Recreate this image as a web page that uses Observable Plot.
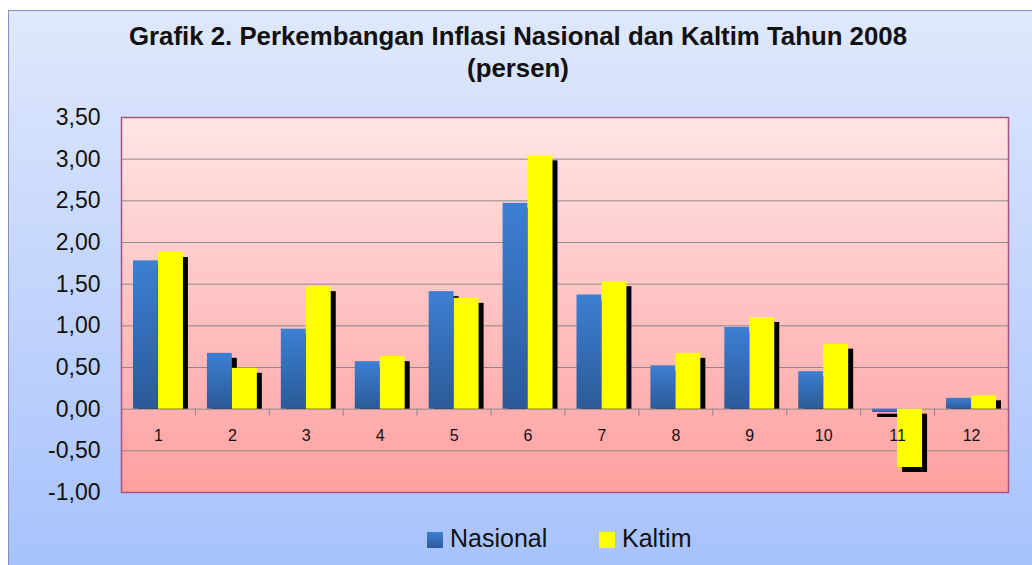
<!DOCTYPE html>
<html>
<head>
<meta charset="utf-8">
<script src="https://cdn.jsdelivr.net/npm/d3@7"></script>
<script src="https://cdn.jsdelivr.net/npm/@observablehq/plot@0.6"></script>
<style>
  html, body { margin: 0; padding: 0; background: #ffffff; }
  #page { position: relative; width: 1032px; height: 565px; overflow: hidden; font-family: "Liberation Sans", Arial, sans-serif; }
  #frame { position: absolute; left: 8px; top: 10px; width: 1040px; height: 570px; box-sizing: border-box;
           border-left: 1.5px solid #8a8cbc; border-top: 1.5px solid #8a8cbc;
           background: linear-gradient(to bottom, #dfe8fc 0%, #a6c1fc 100%); }
  .title { position: absolute; left: 0; width: 1036px; text-align: center; font-weight: bold; font-size: 25.8px; line-height: 25px; color: #111; white-space: nowrap; }
  #chart { position: absolute; left: 0; top: 100px; }
  .sw { position: absolute; width: 16px; height: 16px; top: 532px; }
  .lg { position: absolute; top: 526px; font-size: 25px; line-height: 25px; color: #111; white-space: nowrap; }
</style>
</head>
<body>
<div id="page">
  <div id="frame"></div>
  <div class="title" style="top:24px">Grafik 2. Perkembangan Inflasi Nasional dan Kaltim Tahun 2008</div>
  <div class="title" style="top:56px">(persen)</div>
  <div id="chart"></div>
  <div class="sw" style="left:427px;background:linear-gradient(to bottom,#3d7fd3,#2c5b9a)"></div>
  <div class="lg" style="left:450px">Nasional</div>
  <div class="sw" style="left:599px;background:#ffff00"></div>
  <div class="lg" style="left:622px">Kaltim</div>
</div>
<script>
const months = [1, 2, 3, 4, 5, 6, 7, 8, 9, 10, 11, 12];
const nasional = [1.78, 0.67, 0.96, 0.57, 1.41, 2.47, 1.37, 0.52, 0.98, 0.45, -0.04, 0.13];
const kaltim = [1.88, 0.49, 1.47, 0.63, 1.33, 3.04, 1.53, 0.67, 1.10, 0.78, -0.70, 0.16];
const yTicks = [-1, -0.5, 0, 0.5, 1, 1.5, 2, 2.5, 3, 3.5];
const seriesNames = ["Nasional", "Kaltim"];

const fmt = d => d.toFixed(2).replace(".", ",");

// drop shadows: positive bars' shadow ends at the baseline, negative ones are fully offset
function shadows(values, insetLeft, insetRight) {
  return [
    Plot.barY(months, { filter: (d, i) => values[i] >= 0, x: d => d, y: d => values[d - 1], fill: "#000",
      insetLeft, insetRight, dx: 5, dy: 5, insetBottom: 5 }),
    Plot.barY(months, { filter: (d, i) => values[i] < 0, x: d => d, y: d => values[d - 1], fill: "#000",
      insetLeft, insetRight, dx: 5, dy: 5 })
  ];
}

const svg = Plot.plot({
  width: 1032,
  height: 420,
  marginTop: 17,
  marginBottom: 28,
  marginLeft: 121,
  marginRight: 24,
  style: { background: "transparent", fontFamily: "'Liberation Sans', Arial, sans-serif", color: "#111", overflow: "visible" },
  x: { type: "band", domain: months, padding: 0, round: false, axis: null },
  y: { domain: [-1, 3.5], axis: null },
  marks: [
    Plot.frame({ fill: "url(#pinkGrad)" }),
    Plot.gridY(yTicks, { stroke: "#8a8a8a", strokeOpacity: 1 }),
    Plot.axisY(yTicks, { tickSize: 0, tickPadding: 21, fontSize: 23, tickFormat: fmt, fill: "#111" }),
    Plot.ruleX(months, { x: d => d, y1: d => 0, y2: d => 0, dx: -37, insetBottom: -7, stroke: "#8a8a8a" }),
    Plot.ruleX(months.slice(-1), { x: d => d, y1: d => 0, y2: d => 0, dx: 37, insetBottom: -7, stroke: "#8a8a8a" }),
    ...shadows(nasional, 12, 37),
    Plot.barY(months, { x: d => d, y: (d, i) => nasional[i], fill: "url(#blueGrad)", insetLeft: 12, insetRight: 37, title: () => seriesNames[0] }),
    ...shadows(kaltim, 37, 12),
    Plot.barY(months, { x: d => d, y: (d, i) => kaltim[i], fill: "#ffff00", insetLeft: 37, insetRight: 12, title: () => seriesNames[1] }),
    Plot.text(months, { x: d => d, y: d => 0, dy: 27, text: d => String(d), fontSize: 16, fill: "#111" }),
    Plot.frame({ stroke: "#a8527f", strokeWidth: 1.5 })
  ]
});

const defs = d3.select(svg).insert("defs", ":first-child");
const pg = defs.append("linearGradient").attr("id", "pinkGrad").attr("x1", 0).attr("y1", 0).attr("x2", 0).attr("y2", 1);
pg.append("stop").attr("offset", "0%").attr("stop-color", "#ffe5e5");
pg.append("stop").attr("offset", "100%").attr("stop-color", "#ffa0a0");
const bg = defs.append("linearGradient").attr("id", "blueGrad").attr("x1", 0).attr("y1", 0).attr("x2", 0).attr("y2", 1);
bg.append("stop").attr("offset", "0%").attr("stop-color", "#3d7fd3");
bg.append("stop").attr("offset", "100%").attr("stop-color", "#2b5a98");

document.getElementById("chart").appendChild(svg);
</script>
</body>
</html>
